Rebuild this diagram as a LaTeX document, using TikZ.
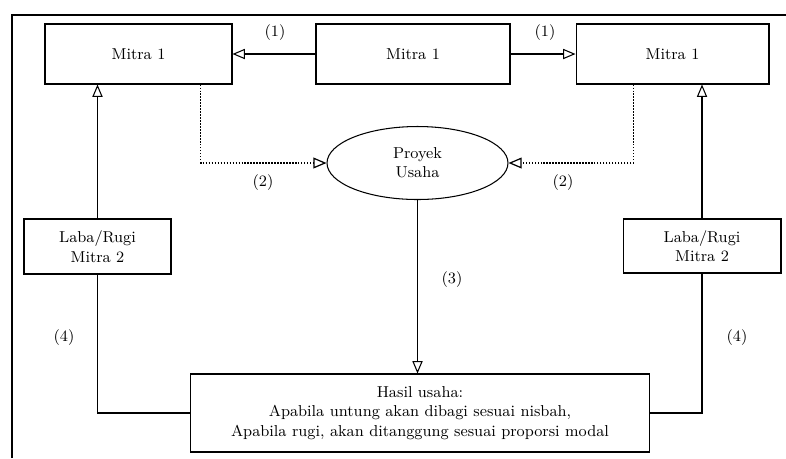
\documentclass[tikz,border=0pt]{standalone}
\usetikzlibrary{arrows,shapes.geometric}
\begin{document}
\begin{tikzpicture}[x=0.02cm,y=-0.02cm,
   kotak/.style={draw,line width=0.6pt,align=center,font=\small,inner sep=2pt},
   garis/.style={line width=0.6pt},
   putus/.style={line width=0.7pt,densely dotted},
   ujung/.style={-open triangle 45},
   nomor/.style={font=\small}]
   \useasboundingbox (0,0) rectangle (786,458);
   \draw [line width=0.6pt] (12,458) -- (12,15) -- (786,15);
   \node [kotak,minimum width=3.74cm,minimum height=1.2cm] (mKiri) at (138.5,54) {Mitra 1};
   \node [kotak,minimum width=3.88cm,minimum height=1.2cm] (mTengah) at (413,54) {Mitra 1};
   \node [kotak,minimum width=3.86cm,minimum height=1.2cm] (mKanan) at (672.5,54) {Mitra 1};
   \node [kotak,ellipse,minimum width=3.62cm,minimum height=1.46cm,inner sep=0pt] (proyek) at (417.5,163) {Proyek\\Usaha};
   \node [kotak,minimum width=2.94cm,minimum height=1.1cm] (lrKiri) at (97.5,246.5) {Laba/Rugi\\Mitra 2};
   \node [kotak,minimum width=3.16cm,minimum height=1.08cm] (lrKanan) at (702,246) {Laba/Rugi\\Mitra 2};
   \node [kotak,minimum width=9.2cm,minimum height=1.56cm] (hasil) at (420,413) {Hasil usaha:\\Apabila untung akan dibagi sesuai nisbah,\\Apabila rugi, akan ditanggung sesuai proporsi modal};
   \draw [garis,ujung] (mTengah.west) -- (mKiri.east);
   \draw [garis,ujung] (mTengah.east) -- (mKanan.west);
   \draw [putus,ujung] (mKiri.south east) ++(-32,0) |- (proyek.west);
   \draw [putus,ujung] (mKanan.south west) ++(58,0) |- (proyek.east);
   \draw [garis,ujung] (lrKiri.north) -- (lrKiri.north |- mKiri.south);
   \draw [garis,ujung] (lrKanan.north) -- (lrKanan.north |- mKanan.south);
   \draw [garis,ujung] (proyek.south) -- (proyek.south |- hasil.north);
   \draw [garis] (lrKiri.south) |- (hasil.west);
   \draw [garis] (lrKanan.south) |- (hasil.east);
   \node [nomor] (n1a) at (275,33) {(1)};
   \node [nomor] (n1b) at (545,33) {(1)};
   \node [nomor] (n2a) at (263,183) {(2)};
   \node [nomor] (n2b) at (563,183) {(2)};
   \node [nomor] (n3) at (452,280) {(3)};
   \node [nomor] (n4a) at (64,338) {(4)};
   \node [nomor] (n4b) at (737,338) {(4)};
\end{tikzpicture}
\end{document}
